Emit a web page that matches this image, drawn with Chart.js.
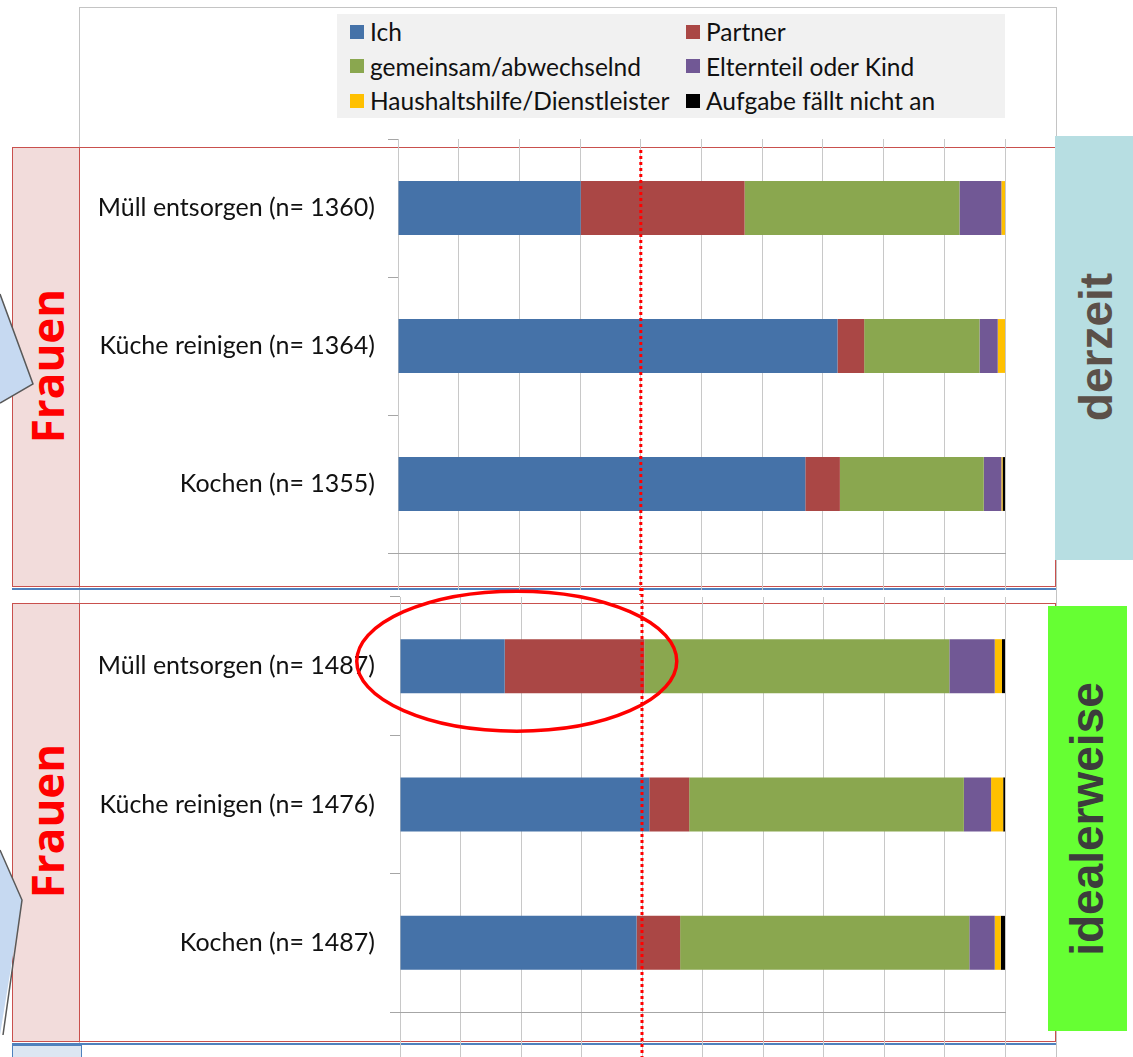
<!DOCTYPE html>
<html lang="de">
<head>
<meta charset="utf-8">
<title>Aufgabenteilung Frauen – derzeit / idealerweise</title>
<script src="https://cdn.jsdelivr.net/npm/chart.js@4.4.1/dist/chart.umd.min.js"></script>
<style>
  html, body { margin: 0; padding: 0; background: #fff; }
  #page { position: relative; width: 1133px; height: 1057px; overflow: hidden; font-family: Lato, "Open Sans", sans-serif; }
  .abs { position: absolute; }
  .frame { border: 1px solid #c4c4c4; border-bottom: none; }
  .redbox { border: 1.5px solid #c9504d; box-sizing: border-box; }
  .pink { background: #f2dcdb; border: 1.5px solid #c9504d; box-sizing: border-box; }
  .blueline { height: 2px; background: #4f81bd; }
  .rot { transform: translate(-50%, -50%) rotate(-90deg); white-space: nowrap; }
  .frauen { color: #ff0000; font-family: "Open Sans", sans-serif; font-weight: 700; font-size: 44px; }
  .side { font-family: "Liberation Sans", Arial, sans-serif; font-weight: 700; font-size: 46px; }
  canvas { position: absolute; z-index: 1; }
  #legend { left: 337px; top: 14px; width: 668px; height: 104px; background: #f1f1f1;
            display: grid; grid-template-columns: 336px auto; grid-auto-rows: 34.5px;
            padding-left: 13px; box-sizing: border-box; align-content: center; }
  #legend div { display: flex; align-items: center; font-size: 24.5px; color: #111; white-space: nowrap; }
  #legend span { display: inline-block; width: 14px; height: 14px; margin-right: 6px; }
</style>
</head>
<body>
<div id="page">
  <div class="abs frame" style="left:79px; top:7px; width:976px; height:1050px;"></div>
  <div class="abs" id="legend"></div>

  <div class="abs redbox" style="left:12px; top:147px; width:1044px; height:440px;"></div>
  <div class="abs pink" style="left:12px; top:147px; width:68px; height:440px;"></div>
  <div class="abs blueline" style="left:12px; top:588px; width:1044px;"></div>
  <div class="abs redbox" style="left:12px; top:603px; width:1044px; height:439px;"></div>
  <div class="abs pink" style="left:12px; top:603px; width:68px; height:439px;"></div>
  <div class="abs blueline" style="left:12px; top:1043px; width:1044px;"></div>
  <div class="abs" style="left:12px; top:1045px; width:68px; height:14px; background:#dce6f2; border:1px solid #4f81bd;"></div>

  <canvas id="chartNow" style="left:80px; top:130px;" width="975" height="465"></canvas>
  <canvas id="chartIdeal" style="left:80px; top:588px;" width="975" height="469"></canvas>

  <div class="abs rot frauen" style="left:47px; top:366px; z-index:2;">Frauen</div>
  <div class="abs rot frauen" style="left:47px; top:821px; z-index:2;">Frauen</div>

  <div class="abs" style="left:1055px; top:136px; width:78px; height:424px; background:#b7dee2; z-index:2;"></div>
  <div class="abs rot side" style="left:1096px; top:347px; color:#5b5049; z-index:3;">derzeit</div>
  <div class="abs" style="left:1048px; top:606px; width:79px; height:425px; background:#66ff33; z-index:2;"></div>
  <div class="abs rot side" style="left:1087px; top:819px; color:#3c3c3c; z-index:3;">idealerweise</div>

  <svg class="abs" style="left:0; top:0; z-index:3;" width="1133" height="1057">
    <polygon points="0,294 33,384 0,403" fill="#c6d9f1"/>
    <polyline points="0,294 33,384 0,403" fill="none" stroke="#595959" stroke-width="1.5"/>
    <polygon points="0,850 22,900 0,1035" fill="#c6d9f1"/>
    <polyline points="0,850 22,900 3,1035" fill="none" stroke="#595959" stroke-width="1.5"/>
  </svg>
</div>

<script>
// categories
const tasksNow = ['Müll entsorgen (n= 1360)', 'Küche reinigen (n= 1364)', 'Kochen (n= 1355)'];
const tasksIdeal = ['Müll entsorgen (n= 1487)', 'Küche reinigen (n= 1476)', 'Kochen (n= 1487)'];

const seriesNames = ['Ich', 'Partner', 'gemeinsam/abwechselnd', 'Elternteil oder Kind',
                     'Haushaltshilfe/Dienstleister', 'Aufgabe fällt nicht an'];
const seriesColors = ['#4572a8', '#aa4745', '#8aa74f', '#715895', '#ffc000', '#000000'];

// derzeit, % (Müll, Küche, Kochen)
const ichNow      = [30.1, 72.4, 67.1];
const partnerNow  = [27.0, 4.4, 5.7];
const gemeinsamNow = [35.4, 19.0, 23.7];
const elternNow   = [6.9, 3.0, 2.9];
const hilfeNow    = [0.6, 1.2, 0.2];
const entfaelltNow = [0.0, 0.0, 0.4];

// idealerweise, %
const ichIdeal      = [17.3, 41.2, 39.1];
const partnerIdeal  = [23.1, 6.6, 7.2];
const gemeinsamIdeal = [50.4, 45.4, 47.8];
const elternIdeal   = [7.5, 4.5, 4.2];
const hilfeIdeal    = [1.2, 2.0, 1.0];
const entfaelltIdeal = [0.5, 0.3, 0.7];

const xTicks = [0, 10, 20, 30, 40, 50, 60, 70, 80, 90, 100];
const markValue = 40; // rote Linie

// dotted red reference line
const refLine = {
    id: 'refLine',
    afterDatasetsDraw(chart, args, opts) {
        const x = chart.scales.x.getPixelForValue(opts.value);
        const ctx = chart.ctx;
        ctx.save();
        ctx.strokeStyle = '#ff0000';
        ctx.lineWidth = 3;
        ctx.setLineDash([3, 3]);
        ctx.beginPath();
        ctx.moveTo(x, opts.from);
        ctx.lineTo(x, chart.height);
        ctx.stroke();
        ctx.restore();
    }
};

// red ellipse round the first bar
const ring = {
    id: 'ring',
    afterDraw(chart, args, opts) {
        if (!opts.show) return;
        const x = chart.scales.x.getPixelForValue(opts.value);
        const y = chart.scales.y.getPixelForValue(0) + opts.dy;
        const ctx = chart.ctx;
        ctx.save();
        ctx.strokeStyle = '#ff0000';
        ctx.lineWidth = 3.5;
        ctx.beginPath();
        ctx.ellipse(x, y, opts.rx, opts.ry, 0, 0, Math.PI * 2);
        ctx.stroke();
        ctx.restore();
    }
};

function makeChart(id, labels, series, axisWidth, pad, tickLen, labelPad, lineFrom, showRing) {
    const datasets = series.map((vals, i) => ({
        label: seriesNames[i],
        data: vals,
        backgroundColor: seriesColors[i],
        borderWidth: 0,
        barPercentage: 0.39,
        categoryPercentage: 1
    }));
    return new Chart(document.getElementById(id), {
        type: 'bar',
        data: { labels: labels, datasets: datasets },
        plugins: [refLine, ring],
        options: {
            indexAxis: 'y',
            responsive: false,
            animation: false,
            layout: { padding: pad },
            scales: {
                x: {
                    stacked: true,
                    min: 0,
                    max: 100,
                    afterBuildTicks: (scale) => { scale.ticks = xTicks.map(v => ({ value: v })); },
                    ticks: { display: false },
                    grid: { color: '#c8c8c8', tickLength: tickLen, tickColor: '#c8c8c8' },
                    border: { display: true, color: '#a6a6a6' }
                },
                y: {
                    stacked: true,
                    afterFit: (scale) => {
                        scale.width = axisWidth;
                        scale.paddingTop = 0;
                        scale.paddingBottom = 0;
                    },
                    ticks: {
                        padding: labelPad,
                        color: '#111',
                        font: { family: 'Lato, "Open Sans", sans-serif', size: 25 }
                    },
                    grid: { offset: true, drawOnChartArea: false, tickLength: 10, tickColor: '#a6a6a6' },
                    border: { display: false }
                }
            },
            plugins: {
                legend: { display: false },
                tooltip: { enabled: false },
                refLine: { value: markValue, from: lineFrom },
                ring: { show: showRing, value: 19.3, dy: -5, rx: 160, ry: 70 }
            }
        }
    });
}

const chartNow = makeChart('chartNow', tasksNow,
    [ichNow, partnerNow, gemeinsamNow, elternNow, hilfeNow, entfaelltNow],
    318, { left: 0, right: 50, top: 9, bottom: 5 }, 37, 13, 20, false);

const chartIdeal = makeChart('chartIdeal', tasksIdeal,
    [ichIdeal, partnerIdeal, gemeinsamIdeal, elternIdeal, hilfeIdeal, entfaelltIdeal],
    320, { left: 0, right: 50, top: 9, bottom: 0 }, 45, 15, 0, true);

// legend from the chart's own datasets
const legendEl = document.getElementById('legend');
chartNow.data.datasets.forEach(ds => {
    const item = document.createElement('div');
    const box = document.createElement('span');
    box.style.background = ds.backgroundColor;
    item.appendChild(box);
    item.appendChild(document.createTextNode(ds.label));
    legendEl.appendChild(item);
});
</script>
</body>
</html>
